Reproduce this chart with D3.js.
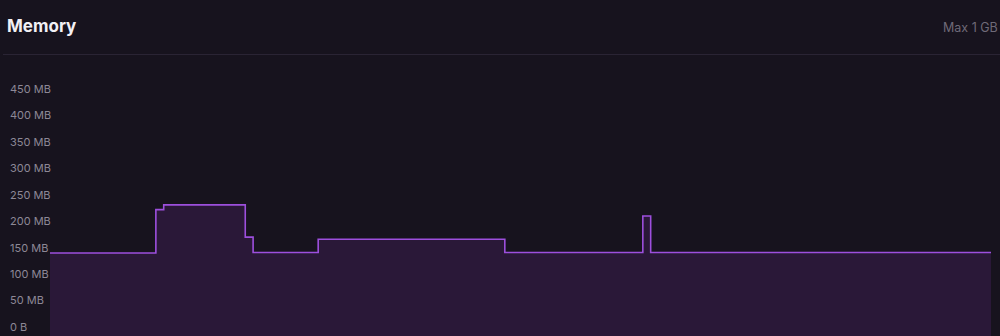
<!DOCTYPE html>
<html>
<head>
<meta charset="utf-8">
<script src="https://cdn.jsdelivr.net/npm/d3@7"></script>
<style>
  html, body { margin: 0; padding: 0; background: #17131e; }
  svg { display: block; }
</style>
</head>
<body>
<svg id="chart" width="1000" height="336"></svg>
<script>
// Memory usage panel, dark theme

// Data (minutes since window start, MB)
const times  = [0, 6.75, 7.25, 12.45, 12.95, 17.1, 29.0, 37.8, 38.3, 60];
const memMB  = [140, 222, 231, 170, 141, 166, 141, 210, 141, 141];
const yTicks = [0, 50, 100, 150, 200, 250, 300, 350, 400, 450];
const title = "Memory";
const maxLabel = "Max 1 GB";

const svg = d3.select("#chart"),
    width = +svg.attr("width"),
    height = +svg.attr("height");

const plotLeft = 50, plotRight = 991;

// Header
svg.append("text")
    .attr("x", 7)
    .attr("y", 32)
    .attr("fill", "#f2f0f5")
    .attr("font-family", "Inter, 'Open Sans', sans-serif")
    .attr("font-weight", 700)
    .attr("font-size", 17)
    .text(title);

// reference crops this at the right edge
svg.append("text")
    .attr("x", 943)
    .attr("y", 32)
    .attr("fill", "#6f6a78")
    .attr("font-family", "Inter, 'Open Sans', sans-serif")
    .attr("font-size", 12.5)
    .text(maxLabel);

svg.append("line")
    .attr("x1", 3).attr("x2", width)
    .attr("y1", 54.5).attr("y2", 54.5)
    .attr("stroke", "#2a2434")
    .attr("stroke-width", 1);

// Scales
const x = d3.scaleLinear().domain([0, 60]).range([plotLeft, plotRight]);
const y = d3.scaleLinear().domain([0, 450]).range([327, 89]);

// Y labels
svg.append("g")
    .selectAll("text")
    .data(yTicks)
    .enter().append("text")
    .attr("x", 10)
    .attr("y", d => y(d))
    .attr("dy", "0.35em")
    .attr("fill", "#8d8896")
    .attr("font-family", "Inter, 'Open Sans', sans-serif")
    .attr("font-size", 11)
    .text(d => d === 0 ? "0 B" : d + " MB");

const data = times.map((t, i) => ({t: t, v: memMB[i]}));

// Area fill down to bottom edge
const area = d3.area()
    .curve(d3.curveStepAfter)
    .x(d => x(d.t))
    .y0(height)
    .y1(d => y(d.v));

svg.append("path")
    .datum(data)
    .attr("d", area)
    .attr("fill", "#2a1838");

const line = d3.line()
    .curve(d3.curveStepAfter)
    .x(d => x(d.t))
    .y(d => y(d.v));

svg.append("path")
    .datum(data)
    .attr("d", line)
    .attr("fill", "none")
    .attr("stroke", "#9d4fdd")
    .attr("stroke-width", 1.6);
</script>
</body>
</html>
